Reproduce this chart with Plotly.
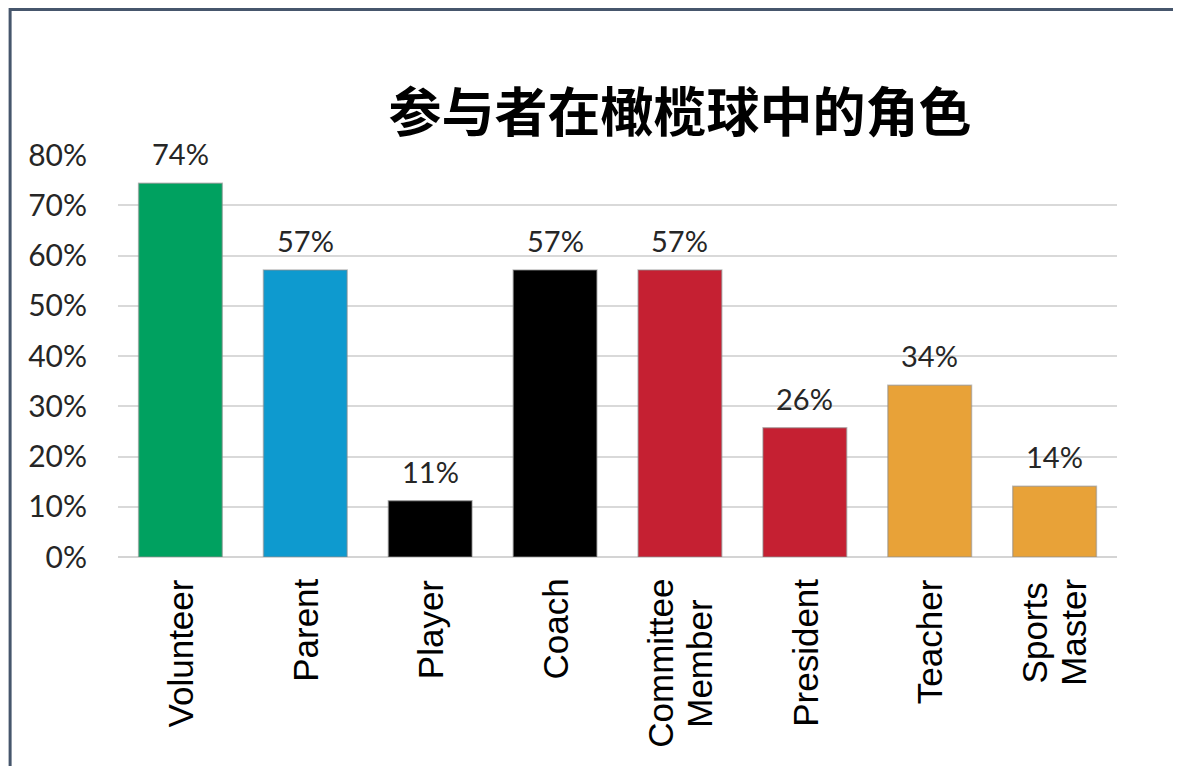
import plotly.graph_objects as go

categories = ["Volunteer", "Parent", "Player", "Coach", "Committee<br>Member",
              "President", "Teacher", "Sports<br>Master"]
values = [74.4, 57.1, 11.2, 57.1, 57.1, 25.7, 34.2, 14.1]
labels = ["74%", "57%", "11%", "57%", "57%", "26%", "34%", "14%"]
colors = ["#00A160", "#0E9ACF", "#000000", "#000000", "#C52032",
          "#C52032", "#E8A238", "#E8A238"]
yticks = [0, 10, 20, 30, 40, 50, 60, 70, 80]
yticklabels = ["0%", "10%", "20%", "30%", "40%", "50%", "60%", "70%", "80%"]
title = "参与者在橄榄球中的角色"

W, H = 1173, 758
L, R, T, B = 109.5, 63.5, 147, 209
pw, ph = W - L - R, H - T - B
LABEL_SIZE = 35
LINE_GAP = 39

def px(x):
    return (x - L) / pw

def py(y):
    return (H - B - y) / ph

fig = go.Figure()
fig.add_trace(go.Bar(
    x=categories, y=values, width=0.67,
    marker=dict(color=colors, line=dict(color="rgba(140,140,140,0.55)", width=1.5)),
    hoverinfo="skip",
))

for c, v, t in zip(categories, values, labels):
    fig.add_annotation(x=c, y=v, text=t, showarrow=False, yanchor="bottom",
                       yshift=10, font=dict(family="Lato", size=29, color="#262626"))

hidden = "<span style='color:rgba(0,0,0,0)'>{}</span>"
for c in categories:
    lines = c.split("<br>")
    n = len(lines)
    for i in range(n):
        txt = "<br>".join(ln if j == i else hidden.format(ln) for j, ln in enumerate(lines))
        off = i - (n - 1) / 2
        fig.add_annotation(x=c, y=0, text=txt, showarrow=False, textangle=-90,
                           yanchor="top", xanchor="center", align="center", yshift=-20,
                           xshift=off * (LINE_GAP - 1.3 * LABEL_SIZE),
                           font=dict(family="Liberation Sans", size=LABEL_SIZE, color="#000000"))

shapes = [
    dict(type="rect", xref="paper", yref="paper", x0=px(1.5), x1=px(W + 10), y0=py(1.5), y1=py(H + 10),
         fillcolor="#ffffff", line=dict(color="#46566c", width=3), layer="below"),
]

fig.update_layout(
    width=W, height=H,
    margin=dict(l=L, r=R, t=T, b=B),
    paper_bgcolor="#ffffff", plot_bgcolor="rgba(0,0,0,0)",
    showlegend=False,
    shapes=shapes,
    title=dict(text="<b>" + title + "</b>", xref="container", x=672 / W, xanchor="center",
               yref="container", y=1 - 105 / H, yanchor="middle",
               font=dict(family="Noto Sans CJK SC", size=53, color="#000000")),
    bargap=0.33,
)
fig.update_yaxes(range=[0, 80], tickvals=yticks, ticktext=yticklabels,
                 showgrid=True, gridcolor="#d9d9d9", gridwidth=2,
                 zeroline=True, zerolinecolor="#d4d4d4", zerolinewidth=2,
                 showline=False, ticks="outside", ticklen=24, tickcolor="rgba(0,0,0,0)",
                 tickfont=dict(family="Lato", size=30, color="#262626"))
fig.update_xaxes(showticklabels=False, showgrid=False, showline=False, ticks="")

fig.write_html("out.html")
